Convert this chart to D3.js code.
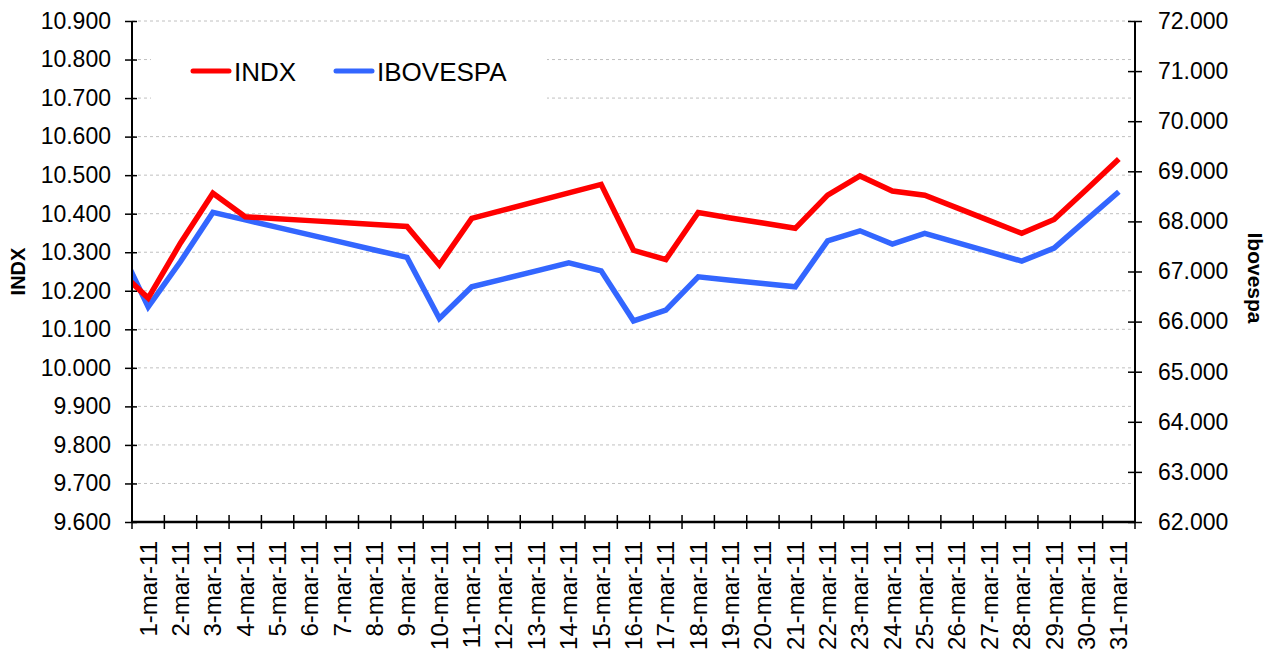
<!DOCTYPE html>
<html lang="es">

<head>
  <meta charset="utf-8">
  <title> INDX vs IBOVESPA </title>
  <script src="https://d3js.org/d3.v7.min.js"></script>
  <style>
    body {
      margin: 0;
      background: #fff;
      font-family: "Liberation Sans", Arial, sans-serif;
    }

    .grid line {
      stroke: #c0c0c0;
      stroke-dasharray: 3, 3;
    }

    .axis path,
    .axis line {
      stroke: #000;
    }

    .axis text {
      font-size: 23px;
      fill: #000;
      font-family: "Liberation Sans", Arial, sans-serif;
    }

    .axis text.xl {
      font-size: 24px;
    }
  </style>
</head>

<body>
  <script>
    // Categories (trading days, March 2011)
    var dates = ["1-mar-11", "2-mar-11", "3-mar-11", "4-mar-11", "5-mar-11", "6-mar-11",
      "7-mar-11", "8-mar-11", "9-mar-11", "10-mar-11", "11-mar-11", "12-mar-11",
      "13-mar-11", "14-mar-11", "15-mar-11", "16-mar-11", "17-mar-11", "18-mar-11",
      "19-mar-11", "20-mar-11", "21-mar-11", "22-mar-11", "23-mar-11", "24-mar-11",
      "25-mar-11", "26-mar-11", "27-mar-11", "28-mar-11", "29-mar-11", "30-mar-11",
      "31-mar-11"
    ];

    // INDX (left axis)
    var indx = [10181, 10324, 10453, 10392, 10387, 10382, 10377, 10372, 10367, 10267,
      10388, 10410, 10432, 10454, 10476, 10305, 10281, 10403, 10389, 10376, 10362,
      10448, 10498, 10459, 10448, 10415, 10382, 10349, 10385, 10463, 10542
    ];

    // IBOVESPA (right axis)
    var ibov = [66294, 67200, 68179, 68030, 67880, 67730, 67580, 67430, 67281, 66062,
      66694, 66854, 67014, 67173, 67013, 66015, 66228, 66893, 66827, 66760, 66694,
      67612, 67812, 67546, 67760, 67576, 67392, 67207, 67466, 68030, 68591
    ];

    // previous day (28-feb-11), only the clipped stub shows left of the first category
    var indxPrev = 10260;
    var ibovPrev = 67640;

    var leftTicks = d3.range(9600, 10901, 100);
    var rightTicks = d3.range(62000, 72001, 1000);

    var width = 1273,
      height = 652;
    // plot box (note: "top" is reserved on window, so use m-prefixed names)
    var mLeft = 132,
      mRight = 1135,
      mTop = 21,
      mBottom = 522;

    var svg = d3.select("body")
      .append("svg")
      .attr("width", width)
      .attr("height", height);

    var locale = d3.formatLocale({
      decimal: ",",
      thousands: ".",
      grouping: [3]
    });
    var fmt = locale.format(",");

    var x = d3.scaleBand()
      .domain(dates)
      .range([mLeft, mRight])
      .paddingInner(0)
      .paddingOuter(0);

    var yL = d3.scaleLinear().domain([9600, 10900]).range([mBottom, mTop]);
    var yR = d3.scaleLinear().domain([62000, 72000]).range([mBottom, mTop]);

    function cx(i) {
      return x(dates[0]) + x.bandwidth() * (i + 0.5);
    }

    // gridlines from the left axis
    svg.append("g")
      .attr("class", "grid")
      .selectAll("line")
      .data(leftTicks.slice(1))
      .enter().append("line")
      .attr("x1", mLeft)
      .attr("x2", mRight)
      .attr("y1", function(d) { return yL(d); })
      .attr("y2", function(d) { return yL(d); });

    // clip to plot area
    svg.append("clipPath")
      .attr("id", "plot")
      .append("rect")
      .attr("x", mLeft)
      .attr("y", mTop)
      .attr("width", mRight - mLeft)
      .attr("height", mBottom - mTop);

    var lineL = d3.line()
      .x(function(d) { return cx(d.i); })
      .y(function(d) { return yL(d.v); });

    var lineR = d3.line()
      .x(function(d) { return cx(d.i); })
      .y(function(d) { return yR(d.v); });

    var indxPts = [{ i: -1, v: indxPrev }].concat(indx.map(function(v, i) { return { i: i, v: v }; }));
    var ibovPts = [{ i: -1, v: ibovPrev }].concat(ibov.map(function(v, i) { return { i: i, v: v }; }));

    var lines = svg.append("g").attr("clip-path", "url(#plot)");

    lines.append("path")
      .datum(ibovPts)
      .attr("d", lineR)
      .attr("fill", "none")
      .attr("stroke", "#3366ff")
      .attr("stroke-width", 5.5)
      .attr("stroke-linejoin", "miter");

    lines.append("path")
      .datum(indxPts)
      .attr("d", lineL)
      .attr("fill", "none")
      .attr("stroke", "#ff0000")
      .attr("stroke-width", 5.5)
      .attr("stroke-linejoin", "miter");

    // left axis
    var axL = svg.append("g")
      .attr("class", "axis")
      .attr("transform", "translate(" + mLeft + ",0)")
      .call(d3.axisLeft(yL).tickValues(leftTicks).tickFormat(fmt).tickSize(7).tickPadding(14));
    axL.select(".domain").attr("stroke-width", 2).attr("d", "M0," + mTop + "V" + mBottom);
    axL.selectAll(".tick line").attr("x2", -7).attr("x1", 5).attr("stroke-width", 1.5);

    // right axis
    var axR = svg.append("g")
      .attr("class", "axis")
      .attr("transform", "translate(" + mRight + ",0)")
      .call(d3.axisRight(yR).tickValues(rightTicks).tickFormat(fmt).tickSize(7).tickPadding(16));
    axR.select(".domain").attr("stroke-width", 2).attr("d", "M0," + mTop + "V" + mBottom);
    axR.selectAll(".tick line").attr("x1", -7).attr("x2", 7).attr("stroke-width", 1.5);

    // bottom axis: ticks on category boundaries
    var axB = svg.append("g")
      .attr("class", "axis")
      .attr("transform", "translate(0," + mBottom + ")");
    axB.append("path")
      .attr("d", "M" + mLeft + ",0H" + mRight)
      .attr("stroke", "#000")
      .attr("stroke-width", 2.5);
    axB.selectAll(".bt")
      .data(d3.range(dates.length + 1))
      .enter().append("line")
      .attr("x1", function(i) { return mLeft + i * x.bandwidth(); })
      .attr("x2", function(i) { return mLeft + i * x.bandwidth(); })
      .attr("y1", -7)
      .attr("y2", 7)
      .attr("stroke", "#000")
      .attr("stroke-width", 1.5);
    axB.selectAll("text")
      .data(dates)
      .enter().append("text")
      .attr("class", "xl")
      .attr("transform", function(d, i) {
        return "translate(" + cx(i) + ",19) rotate(-90)";
      })
      .attr("text-anchor", "end")
      .attr("dy", "0.35em")
      .text(function(d) { return d; });

    // axis titles
    svg.append("text")
      .attr("transform", "translate(25," + ((mTop + mBottom) / 2) + ") rotate(-90)")
      .attr("text-anchor", "middle")
      .attr("font-weight", "bold")
      .attr("font-size", 20)
      .text("INDX");

    svg.append("text")
      .attr("transform", "translate(1248," + 278 + ") rotate(90)")
      .attr("text-anchor", "middle")
      .attr("font-weight", "bold")
      .attr("font-size", 21)
      .text("Ibovespa");

    // legend
    var legend = svg.append("g");
    legend.append("rect")
      .attr("x", 151)
      .attr("y", 44)
      .attr("width", 396)
      .attr("height", 56)
      .attr("fill", "#fff");

    var items = [{ name: "INDX", color: "#ff0000", x: 193 }, { name: "IBOVESPA", color: "#3366ff", x: 336 }];
    items.forEach(function(d) {
      legend.append("line")
        .attr("x1", d.x)
        .attr("x2", d.x + 36)
        .attr("y1", 71)
        .attr("y2", 71)
        .attr("stroke", d.color)
        .attr("stroke-width", 5)
        .attr("stroke-linecap", "round");
      legend.append("text")
        .attr("x", d.x + 41)
        .attr("y", 81)
        .attr("font-size", 26)
        .text(d.name);
    });
  </script>
</body>

</html>
